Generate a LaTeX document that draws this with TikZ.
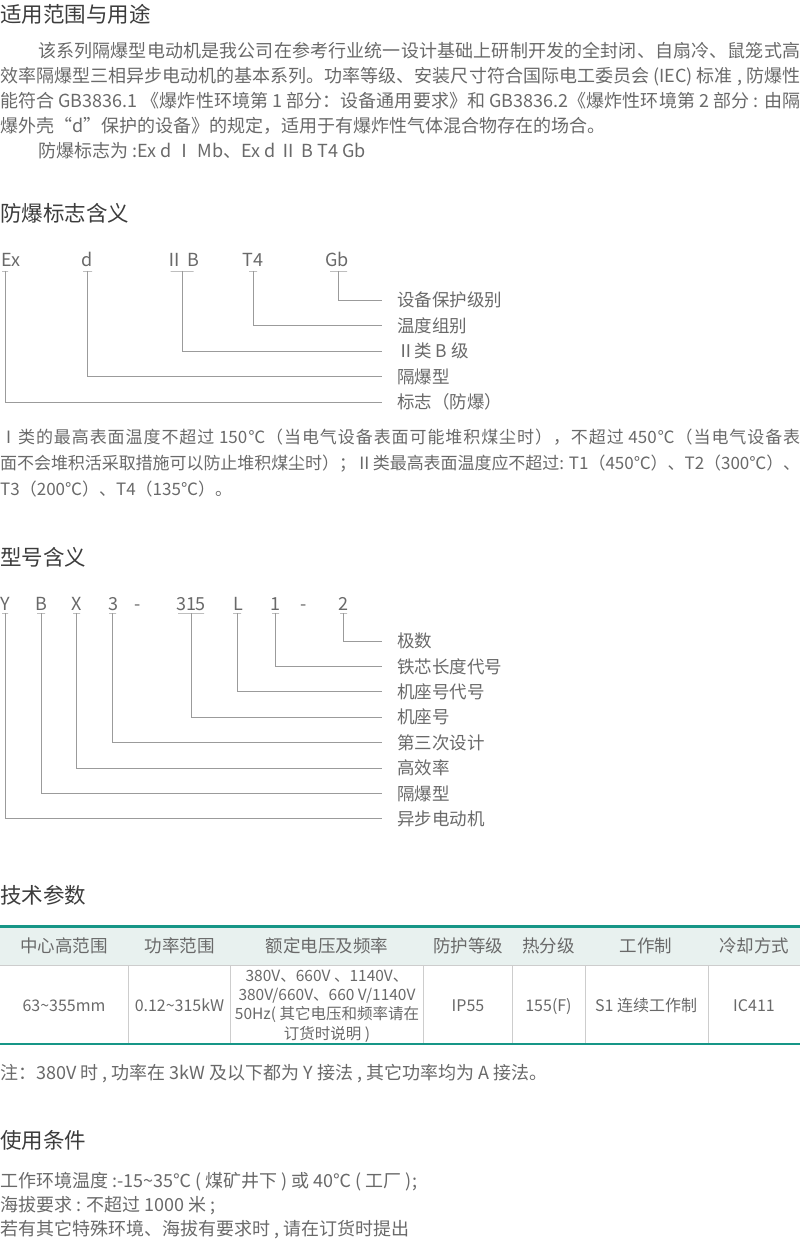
\documentclass[tikz,border=0pt]{standalone}
\usepackage{fontspec}
\setmainfont{Noto Sans CJK SC}
\definecolor{titlegray}{RGB}{60,60,60}
\definecolor{bodygray}{RGB}{105,105,105}
\definecolor{linegray}{RGB}{155,155,155}
\definecolor{cellgray}{RGB}{205,205,205}
\definecolor{tealline}{RGB}{22,150,135}
\definecolor{headfill}{RGB}{232,241,239}
% stretchable glue between CJK characters for the justified lines
\newcount\cjkcode
\def\cjkrange#1#2{\cjkcode=#1\relax
  \loop\XeTeXcharclass\cjkcode=5\relax\advance\cjkcode by 1\relax
  \ifnum\cjkcode<#2\relax\repeat}
\cjkrange{"3000}{"3040}
\cjkrange{"4E00}{"A000}
\cjkrange{"FF00}{"FFF0}
\cjkrange{"2160}{"2170}
\XeTeXcharclass"2103=5
\XeTeXinterchartokenstate=1
\newcommand\cjkgap{\hskip 0pt plus 2pt minus 0.6pt\relax}
\XeTeXinterchartoks 5 5 = {\cjkgap}
\XeTeXinterchartoks 0 5 = {\cjkgap}
\XeTeXinterchartoks 5 0 = {\cjkgap}
\newcommand\fullline[2]{\makebox[#1][s]{#2}}
\tikzstyle{headline} = [anchor=west, inner sep=0pt, text=titlegray,
    font=\fontsize{21.5}{26}\selectfont, text height=18.9pt, text depth=2.6pt]
\tikzstyle{bodyline} = [anchor=west, inner sep=0pt, text=bodygray,
    font=\fontsize{18}{25}\selectfont, text height=15.8pt, text depth=2.2pt]
\tikzstyle{codechar} = [inner sep=0pt, text=bodygray,
    font=\fontsize{18}{22}\selectfont, text height=15.8pt, text depth=2.2pt]
\tikzstyle{underbar} = [draw=linegray, line width=0.9pt, inner sep=0pt, minimum height=0pt]
\tikzstyle{meaning} = [anchor=west, inner sep=0pt, outer xsep=15pt, text=bodygray,
    font=\fontsize{17.5}{22}\selectfont, text height=15.4pt, text depth=2.1pt]
\tikzstyle{leader} = [draw=linegray, line width=0.9pt]
\tikzstyle{tabtext} = [inner sep=0pt, text=bodygray, font=\fontsize{16}{20}\selectfont]
\tikzstyle{tabline} = [tabtext, text height=14pt, text depth=2pt]

\begin{document}
\begin{tikzpicture}[x=1pt,y=-1pt]
\useasboundingbox (0,0) rectangle (800,1246);
% 适用范围与用途
\node[headline] (scope) at (0,14) {适用范围与用途};
\node[bodyline] (p1) at (38,51) {\fullline{762pt}{该系列隔爆型电动机是我公司在参考行业统一设计基础上研制开发的全封闭、自扇冷、鼠笼式高}};
\node[bodyline] (p2) at (0,76) {\fullline{800pt}{效率隔爆型三相异步电动机的基本系列。功率等级、安装尺寸符合国际电工委员会 (IEC) 标准 , 防爆性}};
\node[bodyline] (p3) at (0,101) {\fullline{800pt}{能符合 GB3836.1 《爆炸性环境第 1 部分：设备通用要求》和 GB3836.2《爆炸性环境第 2 部分 : 由隔}};
\node[bodyline] (p4) at (0,126) {爆外壳“d”保护的设备》的规定，适用于有爆炸性气体混合物存在的场合。};
\node[bodyline] (p5) at (38,151) {防爆标志为 :Ex d Ⅰ Mb、Ex d Ⅱ B T4 Gb};

% 防爆标志含义
\node[headline] (mark) at (0,213) {防爆标志含义};
\node[codechar, anchor=west] (cEx) at (1,260) {Ex};
\node[codechar] (cd) at (87.5,260) {d};
\node[codechar] (cIIB) at (182,260) {Ⅱ B};
\node[codechar] (cT4) at (253,260) {T4};
\node[codechar] (cGb) at (337,260) {Gb};
\node[underbar, minimum width=6pt] (uEx) at (5,271) {};
\node[underbar, minimum width=9pt] (ud) at (87.5,271) {};
\node[underbar, minimum width=23pt] (uIIB) at (182,271) {};
\node[underbar, minimum width=8pt] (uT4) at (253,271) {};
\node[underbar, minimum width=17pt] (uGb) at (338.5,271) {};
\node[meaning] (mGb) at (382,300) {设备保护级别};
\node[meaning] (mT4) at (382,325.5) {温度组别};
\node[meaning] (mIIB) at (382,351) {Ⅱ类 B 级};
\node[meaning] (md) at (382,376.5) {隔爆型};
\node[meaning] (mEx) at (382,402) {标志（防爆）};
\draw[leader] (uGb.center) |- (mGb.west);
\draw[leader] (uT4.center) |- (mT4.west);
\draw[leader] (uIIB.center) |- (mIIB.west);
\draw[leader] (ud.center) |- (md.west);
\draw[leader] (uEx.center) |- (mEx.west);
\node[bodyline, font=\fontsize{17}{25}\selectfont] (t1) at (0,437) {\fullline{800pt}{Ⅰ类的最高表面温度不超过 150℃（当电气设备表面可能堆积煤尘时），不超过 450℃（当电气设备表}};
\node[bodyline, font=\fontsize{17}{25}\selectfont] (t2) at (0,463) {\fullline{800pt}{面不会堆积活采取措施可以防止堆积煤尘时）；Ⅱ类最高表面温度应不超过: T1（450℃）、T2（300℃）、}};
\node[bodyline, font=\fontsize{17}{25}\selectfont] (t3) at (0,489) {T3（200℃）、T4（135℃）。};

% 型号含义
\node[headline] (model) at (0,557) {型号含义};
\node[codechar] (cY) at (5,604) {Y};
\node[codechar] (cB) at (41,604) {B};
\node[codechar] (cX) at (76.5,604) {X};
\node[codechar] (c3) at (113,604) {3};
\node[codechar] (cdash1) at (138,604) {-};
\node[codechar] (c315) at (191,604) {315};
\node[codechar] (cL) at (238,604) {L};
\node[codechar] (c1) at (275,604) {1};
\node[codechar] (cdash2) at (304,604) {-};
\node[codechar] (c2) at (343.5,604) {2};
\node[underbar, minimum width=6pt] (uY) at (5,613) {};
\node[underbar, minimum width=8pt] (uB) at (41,613) {};
\node[underbar, minimum width=7pt] (uX) at (76.5,613) {};
\node[underbar, minimum width=7pt] (u3) at (112.5,613) {};
\node[underbar, minimum width=26pt] (u315) at (191,613) {};
\node[underbar, minimum width=8pt] (uL) at (237,613) {};
\node[underbar, minimum width=7pt] (u1) at (275.5,613) {};
\node[underbar, minimum width=7pt] (u2) at (343.5,613) {};
\node[meaning] (m2) at (382,641) {极数};
\node[meaning] (m1) at (382,666.4) {铁芯长度代号};
\node[meaning] (mL) at (382,691.8) {机座号代号};
\node[meaning] (m315) at (382,717.2) {机座号};
\node[meaning] (m3) at (382,742.6) {第三次设计};
\node[meaning] (mX) at (382,768) {高效率};
\node[meaning] (mB) at (382,793.4) {隔爆型};
\node[meaning] (mY) at (382,818.8) {异步电动机};
\draw[leader] (u2.center) |- (m2.west);
\draw[leader] (u1.center) |- (m1.west);
\draw[leader] (uL.center) |- (mL.west);
\draw[leader] (u315.center) |- (m315.west);
\draw[leader] (u3.center) |- (m3.west);
\draw[leader] (uX.center) |- (mX.west);
\draw[leader] (uB.center) |- (mB.west);
\draw[leader] (uY.center) |- (mY.west);

% 技术参数
\node[headline] (tech) at (0,895) {技术参数};
\fill[headfill] (0,927) rectangle (800,965);
\draw[tealline, line width=2.5pt] (0,926.5) -- (800,926.5);
\draw[cellgray, line width=1pt] (0,965) -- (800,965);
\draw[cellgray, line width=1pt] (128.5,965) -- (128.5,1043) (230.5,965) -- (230.5,1043)
    (423,965) -- (423,1043) (512,965) -- (512,1043) (585,965) -- (585,1043) (708,965) -- (708,1043);
\draw[tealline, line width=2.5pt] (0,1044) -- (800,1044);
\node[tabline, font=\fontsize{17.5}{20}\selectfont] (h1) at (64,946) {中心高范围};
\node[tabline, font=\fontsize{17.5}{20}\selectfont] (h2) at (179.5,946) {功率范围};
\node[tabline, font=\fontsize{17.5}{20}\selectfont] (h3) at (327,946) {额定电压及频率};
\node[tabline, font=\fontsize{17.5}{20}\selectfont] (h4) at (468,946) {防护等级};
\node[tabline, font=\fontsize{17.5}{20}\selectfont] (h5) at (548.5,946) {热分级};
\node[tabline, font=\fontsize{17.5}{20}\selectfont] (h6) at (646,946) {工作制};
\node[tabline, font=\fontsize{17.5}{20}\selectfont] (h7) at (754,946) {冷却方式};
\node[tabline] (b1) at (64,1005) {63\textasciitilde355mm};
\node[tabline] (b2) at (179.5,1005) {0.12\textasciitilde315kW};
\node[tabtext, align=center, font=\fontsize{15.5}{19.3}\selectfont] (b3) at (327,1006) {380V、660V 、1140V、\\380V/660V、660 V/1140V\\50Hz( 其它电压和频率请在\\订货时说明 )};
\node[tabline] (b4) at (468,1005) {IP55};
\node[tabline] (b5) at (548.5,1005) {155(F)};
\node[tabline] (b6) at (646,1005) {S1 连续工作制};
\node[tabline] (b7) at (754,1005) {IC411};
\node[bodyline] (note) at (0,1073) {注：380V 时 , 功率在 3kW 及以下都为 Y 接法 , 其它功率均为 A 接法。};

% 使用条件
\node[headline] (cond) at (0,1140) {使用条件};
\node[bodyline] (k1) at (0,1181) {工作环境温度 :-15\textasciitilde35℃ ( 煤矿井下 ) 或 40℃ ( 工厂 );};
\node[bodyline] (k2) at (0,1205) {海拔要求 : 不超过 1000 米 ;};
\node[bodyline] (k3) at (0,1229) {若有其它特殊环境、海拔有要求时 , 请在订货时提出};
\end{tikzpicture}
\end{document}
